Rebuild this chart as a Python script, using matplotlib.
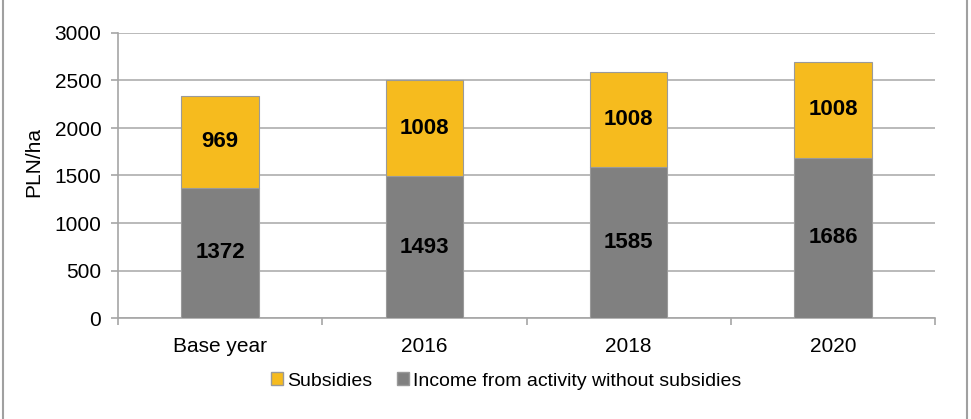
import numpy as np
import matplotlib
matplotlib.use("Agg")
import matplotlib.pyplot as plt
from matplotlib.patches import Rectangle

# data
categories = ["Base year", "2016", "2018", "2020"]
income = [1372, 1493, 1585, 1686]
subsidies = [969, 1008, 1008, 1008]

yellow = "#F6BB1E"
grey = "#808080"
line_grey = "#A6A6A6"

plt.rcParams["font.family"] = ["Liberation Sans", "DejaVu Sans"]

fig = plt.figure(figsize=(9.71, 4.19), dpi=100)
ax = fig.add_axes([118/971, 1-318/419, (935-118)/971, (318-33)/419])

x = np.arange(len(categories))
w = 0.38
ax.bar(x, income, w, color=grey, edgecolor="#9a9a9a", linewidth=0.8, zorder=3,
       label="Income from activity without subsidies")
ax.bar(x, subsidies, w, bottom=income, color=yellow, edgecolor="#9a9a9a", linewidth=0.8,
       zorder=3, label="Subsidies")

for i in range(len(categories)):
    ax.text(x[i], income[i]/2, str(income[i]), ha="center", va="center",
            fontsize=16, fontweight="bold", zorder=4)
    ax.text(x[i], income[i] + subsidies[i]/2, str(subsidies[i]), ha="center", va="center",
            fontsize=16, fontweight="bold", zorder=4)

ax.set_xlim(-0.5, len(categories) - 0.5)
ax.set_ylim(0, 3000)
ax.set_yticks(np.arange(0, 3001, 500))
ax.set_xticks(x)
ax.set_xticklabels(categories)
ax.set_xticks(np.arange(-0.5, len(categories), 1), minor=True)
ax.tick_params(axis="x", which="major", length=0, pad=14, labelsize=15)
ax.tick_params(axis="x", which="minor", length=5, color=line_grey, width=1.2)
ax.tick_params(axis="y", length=5, color=line_grey, width=1.2, labelsize=15, pad=7)
ax.yaxis.grid(True, color="#B4B4B4", linewidth=1.3, zorder=0)
ax.set_axisbelow(True)

for s in ["top", "right"]:
    ax.spines[s].set_visible(False)
ax.spines["left"].set_color(line_grey)
ax.spines["bottom"].set_color(line_grey)
ax.spines["left"].set_linewidth(1.2)
ax.spines["bottom"].set_linewidth(1.2)

ax.set_ylabel("PLN/ha", fontsize=15)
ax.yaxis.set_label_coords(-0.091, 0.546)

h = [Rectangle((0, 0), 1, 1, facecolor=yellow, edgecolor="#9a9a9a"),
     Rectangle((0, 0), 1, 1, facecolor=grey, edgecolor="#9a9a9a")]
l = ["Subsidies", "Income from activity without subsidies"]
fig.legend(h, l, loc="center", bbox_to_anchor=(506/971, 1-381/419), ncol=2, frameon=False,
           fontsize=14, handlelength=0.6, handleheight=0.6, handletextpad=0.2,
           columnspacing=1.3)

# grey frame lines on left and right
fig.add_artist(plt.Line2D([3/971, 3/971], [0, 1], color="#A0A0A0", linewidth=1.5,
                          transform=fig.transFigure))
fig.add_artist(plt.Line2D([967/971, 967/971], [0, 1], color="#A0A0A0", linewidth=1.5,
                          transform=fig.transFigure))

fig.savefig("out.png", dpi=100)
